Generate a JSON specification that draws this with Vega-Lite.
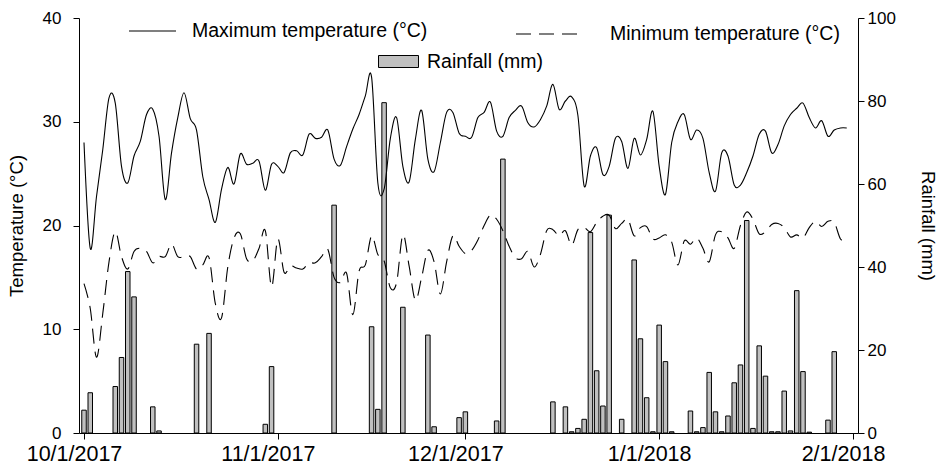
{
  "$schema": "https://vega.github.io/schema/vega-lite/v6.json",
  "width": 779,
  "height": 415,
  "autosize": {"type": "none"},
  "padding": {"left": 79, "top": 18, "right": 83, "bottom": 37},
  "background": "white",
  "config": {
    "view": {"stroke": null},
    "font": "Liberation Sans",
    "axis": {
      "grid": false,
      "domainColor": "black",
      "tickColor": "black",
      "labelColor": "black",
      "titleColor": "black",
      "labelFont": "Liberation Sans",
      "titleFont": "Liberation Sans",
      "labelFontSize": 17,
      "titleFontSize": 18.5,
      "titleFontWeight": "normal",
      "tickSize": 6
    },
    "legend": {
      "labelFont": "Liberation Sans",
      "labelFontSize": 19.5,
      "labelColor": "black",
      "labelLimit": 400,
      "padding": 0,
      "offset": 0
    }
  },
  "data": {
    "values": [
      {"date": "2017-10-01", "tmax": 28.0, "tmin": 14.4, "rain": 5.5},
      {"date": "2017-10-02", "tmax": 17.8, "tmin": 12.0, "rain": 9.7},
      {"date": "2017-10-03", "tmax": 22.8, "tmin": 7.3},
      {"date": "2017-10-04", "tmax": 27.3, "tmin": 11.5},
      {"date": "2017-10-05", "tmax": 32.3, "tmin": 16.5},
      {"date": "2017-10-06", "tmax": 31.8, "tmin": 19.4, "rain": 11.2},
      {"date": "2017-10-07", "tmax": 25.7, "tmin": 17.0, "rain": 18.2},
      {"date": "2017-10-08", "tmax": 24.1, "tmin": 15.8, "rain": 38.9},
      {"date": "2017-10-09", "tmax": 26.7, "tmin": 17.5, "rain": 32.8},
      {"date": "2017-10-10", "tmax": 28.1, "tmin": 17.8},
      {"date": "2017-10-11", "tmax": 30.7, "tmin": 17.5},
      {"date": "2017-10-12", "tmax": 31.2, "tmin": 16.4, "rain": 6.3},
      {"date": "2017-10-13", "tmax": 28.6, "tmin": 17.0, "rain": 0.5},
      {"date": "2017-10-14", "tmax": 22.5, "tmin": 17.0},
      {"date": "2017-10-15", "tmax": 27.0, "tmin": 18.2},
      {"date": "2017-10-16", "tmax": 30.4, "tmin": 17.0},
      {"date": "2017-10-17", "tmax": 32.8, "tmin": 17.0},
      {"date": "2017-10-18", "tmax": 30.3, "tmin": 17.0},
      {"date": "2017-10-19", "tmax": 29.2, "tmin": 15.8, "rain": 21.4},
      {"date": "2017-10-20", "tmax": 24.7, "tmin": 16.2},
      {"date": "2017-10-21", "tmax": 22.5, "tmin": 16.9, "rain": 24.0},
      {"date": "2017-10-22", "tmax": 20.3, "tmin": 12.5},
      {"date": "2017-10-23", "tmax": 23.5, "tmin": 11.1},
      {"date": "2017-10-24", "tmax": 25.6, "tmin": 16.0},
      {"date": "2017-10-25", "tmax": 24.0, "tmin": 18.8},
      {"date": "2017-10-26", "tmax": 26.9, "tmin": 19.2},
      {"date": "2017-10-27", "tmax": 25.9, "tmin": 16.8},
      {"date": "2017-10-28", "tmax": 26.0, "tmin": 16.6},
      {"date": "2017-10-29", "tmax": 26.2, "tmin": 17.8},
      {"date": "2017-10-30", "tmax": 23.4, "tmin": 19.5, "rain": 2.1},
      {"date": "2017-10-31", "tmax": 25.9, "tmin": 14.1, "rain": 16.0},
      {"date": "2017-11-01", "tmax": 25.7, "tmin": 18.7},
      {"date": "2017-11-02", "tmax": 25.1, "tmin": 15.5},
      {"date": "2017-11-03", "tmax": 27.0, "tmin": 16.1},
      {"date": "2017-11-04", "tmax": 27.2, "tmin": 15.9},
      {"date": "2017-11-05", "tmax": 26.8, "tmin": 15.8},
      {"date": "2017-11-06", "tmax": 28.8, "tmin": 16.4},
      {"date": "2017-11-07", "tmax": 28.4, "tmin": 16.4},
      {"date": "2017-11-08", "tmax": 28.5, "tmin": 17.0},
      {"date": "2017-11-09", "tmax": 29.2, "tmin": 17.7},
      {"date": "2017-11-10", "tmax": 26.4, "tmin": 15.0, "rain": 54.9},
      {"date": "2017-11-11", "tmax": 25.8, "tmin": 14.5},
      {"date": "2017-11-12", "tmax": 27.6, "tmin": 15.4},
      {"date": "2017-11-13", "tmax": 29.3, "tmin": 11.4},
      {"date": "2017-11-14", "tmax": 30.7, "tmin": 15.6},
      {"date": "2017-11-15", "tmax": 32.5, "tmin": 16.2},
      {"date": "2017-11-16", "tmax": 34.3, "tmin": 19.0, "rain": 25.6},
      {"date": "2017-11-17", "tmax": 24.1, "tmin": 17.2, "rain": 5.7},
      {"date": "2017-11-18", "tmax": 23.5, "tmin": 16.6, "rain": 79.6},
      {"date": "2017-11-19", "tmax": 28.4, "tmin": 14.0},
      {"date": "2017-11-20", "tmax": 30.4, "tmin": 14.5},
      {"date": "2017-11-21", "tmax": 25.7, "tmin": 19.1, "rain": 30.3},
      {"date": "2017-11-22", "tmax": 24.2, "tmin": 16.1},
      {"date": "2017-11-23", "tmax": 28.3, "tmin": 12.8},
      {"date": "2017-11-24", "tmax": 31.1, "tmin": 15.0},
      {"date": "2017-11-25", "tmax": 26.4, "tmin": 17.6, "rain": 23.6},
      {"date": "2017-11-26", "tmax": 25.2, "tmin": 16.5, "rain": 1.5},
      {"date": "2017-11-27", "tmax": 28.0, "tmin": 13.4},
      {"date": "2017-11-28", "tmax": 30.9, "tmin": 16.5},
      {"date": "2017-11-29", "tmax": 30.9, "tmin": 19.0},
      {"date": "2017-11-30", "tmax": 28.9, "tmin": 18.0, "rain": 3.7},
      {"date": "2017-12-01", "tmax": 28.6, "tmin": 17.3, "rain": 5.1},
      {"date": "2017-12-02", "tmax": 28.5, "tmin": 17.6},
      {"date": "2017-12-03", "tmax": 30.4, "tmin": 18.6},
      {"date": "2017-12-04", "tmax": 30.9, "tmin": 20.0},
      {"date": "2017-12-05", "tmax": 31.9, "tmin": 21.0},
      {"date": "2017-12-06", "tmax": 29.1, "tmin": 20.6, "rain": 2.9},
      {"date": "2017-12-07", "tmax": 28.6, "tmin": 19.5, "rain": 66.0},
      {"date": "2017-12-08", "tmax": 30.4, "tmin": 18.0},
      {"date": "2017-12-09", "tmax": 31.1, "tmin": 16.9},
      {"date": "2017-12-10", "tmax": 31.5, "tmin": 16.8},
      {"date": "2017-12-11", "tmax": 29.9, "tmin": 17.5},
      {"date": "2017-12-12", "tmax": 29.5, "tmin": 16.0},
      {"date": "2017-12-13", "tmax": 30.2, "tmin": 17.2},
      {"date": "2017-12-14", "tmax": 31.5, "tmin": 19.5},
      {"date": "2017-12-15", "tmax": 33.6, "tmin": 19.6, "rain": 7.5},
      {"date": "2017-12-16", "tmax": 31.2, "tmin": 19.0},
      {"date": "2017-12-17", "tmax": 32.0, "tmin": 19.5, "rain": 6.3},
      {"date": "2017-12-18", "tmax": 32.4, "tmin": 18.1, "rain": 0.3},
      {"date": "2017-12-19", "tmax": 30.6, "tmin": 19.6, "rain": 1.1},
      {"date": "2017-12-20", "tmax": 23.8, "tmin": 19.8, "rain": 3.3},
      {"date": "2017-12-21", "tmax": 26.7, "tmin": 19.4, "rain": 48.3},
      {"date": "2017-12-22", "tmax": 27.5, "tmin": 20.3, "rain": 15.0},
      {"date": "2017-12-23", "tmax": 24.9, "tmin": 20.9, "rain": 6.5},
      {"date": "2017-12-24", "tmax": 25.7, "tmin": 21.0, "rain": 52.5},
      {"date": "2017-12-25", "tmax": 28.4, "tmin": 19.7},
      {"date": "2017-12-26", "tmax": 28.1, "tmin": 20.2, "rain": 3.3},
      {"date": "2017-12-27", "tmax": 25.5, "tmin": 20.6},
      {"date": "2017-12-28", "tmax": 28.4, "tmin": 19.0, "rain": 41.7},
      {"date": "2017-12-29", "tmax": 26.8, "tmin": 19.8, "rain": 22.7},
      {"date": "2017-12-30", "tmax": 28.3, "tmin": 19.9, "rain": 8.5},
      {"date": "2017-12-31", "tmax": 31.0, "tmin": 18.7, "rain": 0.3},
      {"date": "2018-01-01", "tmax": 25.7, "tmin": 18.8, "rain": 26.0},
      {"date": "2018-01-02", "tmax": 23.0, "tmin": 19.1, "rain": 17.2},
      {"date": "2018-01-03", "tmax": 28.0, "tmin": 18.4, "rain": 0.3},
      {"date": "2018-01-04", "tmax": 30.0, "tmin": 16.2},
      {"date": "2018-01-05", "tmax": 30.7, "tmin": 18.5},
      {"date": "2018-01-06", "tmax": 28.3, "tmin": 18.2, "rain": 5.3},
      {"date": "2018-01-07", "tmax": 29.2, "tmin": 18.8, "rain": 0.3},
      {"date": "2018-01-08", "tmax": 28.4, "tmin": 17.8, "rain": 1.3},
      {"date": "2018-01-09", "tmax": 25.1, "tmin": 16.5, "rain": 14.6},
      {"date": "2018-01-10", "tmax": 23.3, "tmin": 19.1, "rain": 5.1},
      {"date": "2018-01-11", "tmax": 27.0, "tmin": 19.4, "rain": 0.3},
      {"date": "2018-01-12", "tmax": 26.7, "tmin": 18.8, "rain": 4.1},
      {"date": "2018-01-13", "tmax": 23.9, "tmin": 17.8, "rain": 12.1},
      {"date": "2018-01-14", "tmax": 23.9, "tmin": 20.0, "rain": 16.4},
      {"date": "2018-01-15", "tmax": 25.1, "tmin": 21.3, "rain": 51.2},
      {"date": "2018-01-16", "tmax": 26.7, "tmin": 20.6, "rain": 1.1},
      {"date": "2018-01-17", "tmax": 28.8, "tmin": 19.2, "rain": 21.0},
      {"date": "2018-01-18", "tmax": 29.1, "tmin": 19.4, "rain": 13.7},
      {"date": "2018-01-19", "tmax": 27.0, "tmin": 20.1, "rain": 0.3},
      {"date": "2018-01-20", "tmax": 27.8, "tmin": 20.2, "rain": 0.3},
      {"date": "2018-01-21", "tmax": 29.6, "tmin": 19.8, "rain": 10.1},
      {"date": "2018-01-22", "tmax": 30.7, "tmin": 18.9, "rain": 0.5},
      {"date": "2018-01-23", "tmax": 31.3, "tmin": 19.1, "rain": 34.3},
      {"date": "2018-01-24", "tmax": 31.8, "tmin": 18.8, "rain": 14.8},
      {"date": "2018-01-25", "tmax": 30.4, "tmin": 19.8, "rain": 0.2},
      {"date": "2018-01-26", "tmax": 29.4, "tmin": 20.4},
      {"date": "2018-01-27", "tmax": 30.1, "tmin": 19.9},
      {"date": "2018-01-28", "tmax": 28.6, "tmin": 20.4, "rain": 3.1},
      {"date": "2018-01-29", "tmax": 29.2, "tmin": 20.3, "rain": 19.6},
      {"date": "2018-01-30", "tmax": 29.4, "tmin": 18.7},
      {"date": "2018-01-31", "tmax": 29.4, "tmin": 18.5}
    ]
  },
  "encoding": {
    "x": {
      "field": "date",
      "type": "temporal",
      "scale": {
        "type": "utc",
        "domain": [
          {"year": 2017, "month": 10, "date": 1, "utc": true},
          {"year": 2018, "month": 2, "date": 1, "utc": true}
        ]
      },
      "axis": {
        "title": null,
        "labelExpr": "utcFormat(datum.value, '%-m/%-d/%Y')",
        "labelAngle": 0,
        "labelFontSize": 21.5,
        "labelPadding": 4,
        "labelOffset": -10,
        "labelFlush": false,
        "labelOverlap": false,
        "values": [
          {"year": 2017, "month": 10, "date": 1, "utc": true},
          {"year": 2017, "month": 11, "date": 1, "utc": true},
          {"year": 2017, "month": 12, "date": 1, "utc": true},
          {"year": 2018, "month": 1, "date": 1, "utc": true},
          {"year": 2018, "month": 2, "date": 1, "utc": true}
        ]
      }
    }
  },
  "layer": [
    {
      "transform": [{"filter": "isValid(datum.rain) && datum.rain > 0"}],
      "mark": {"type": "bar", "size": 4.5, "stroke": "black", "strokeWidth": 1, "clip": true},
      "encoding": {
        "y": {
          "field": "rain",
          "type": "quantitative",
          "scale": {"domain": [0, 100], "nice": false},
          "axis": {
            "orient": "right",
            "title": "Rainfall (mm)",
            "values": [0, 20, 40, 60, 80, 100],
            "labelPadding": 3,
            "titlePadding": 22
          }
        },
        "fill": {
          "datum": "Rainfall (mm)",
          "type": "nominal",
          "scale": {"range": ["#c0c0c0"]},
          "legend": {
            "title": null,
            "orient": "none",
            "legendX": 299,
            "legendY": 23,
            "symbolType": "M-1,-0.3H1V0.3H-1Z",
            "symbolSize": 1600,
            "symbolStrokeColor": "black",
            "symbolStrokeWidth": 1,
            "labelOffset": 8
          }
        }
      }
    },
    {
      "layer": [
        {
          "mark": {"type": "line", "interpolate": "cardinal", "strokeWidth": 1.1},
          "encoding": {
            "y": {
              "field": "tmax",
              "type": "quantitative",
              "title": "Temperature (°C)",
              "scale": {"domain": [0, 40], "nice": false},
              "axis": {
                "orient": "left",
                "title": "Temperature (°C)",
                "values": [0, 10, 20, 30, 40],
                "labelPadding": 12,
                "titlePadding": 16
              }
            },
            "stroke": {
              "datum": "Maximum temperature  (°C)",
              "type": "nominal",
              "scale": {"range": ["black"]},
              "legend": {
                "title": null,
                "orient": "none",
                "legendX": 49,
                "legendY": -11.5,
                "symbolType": "stroke",
                "symbolSize": 2209,
                "symbolStrokeWidth": 1.1,
                "labelOffset": 15
              }
            }
          }
        },
        {
          "mark": {"type": "line", "interpolate": "cardinal", "color": "black", "strokeWidth": 1.1},
          "encoding": {
            "y": {
              "field": "tmin",
              "type": "quantitative",
              "title": "Temperature (°C)",
              "axis": {
                "orient": "left",
                "title": "Temperature (°C)",
                "values": [0, 10, 20, 30, 40],
                "labelPadding": 12,
                "titlePadding": 16
              }
            },
            "strokeDash": {
              "datum": "Minimum temperature (°C)",
              "type": "nominal",
              "scale": {"range": [[15, 8]]},
              "legend": {
                "title": null,
                "orient": "none",
                "legendX": 436,
                "legendY": -17.5,
                "symbolType": "stroke",
                "symbolSize": 4225,
                "symbolStrokeColor": "black",
                "symbolStrokeWidth": 1.2,
                "labelOffset": 28
              }
            }
          }
        }
      ]
    }
  ],
  "resolve": {"scale": {"y": "independent"}}
}
